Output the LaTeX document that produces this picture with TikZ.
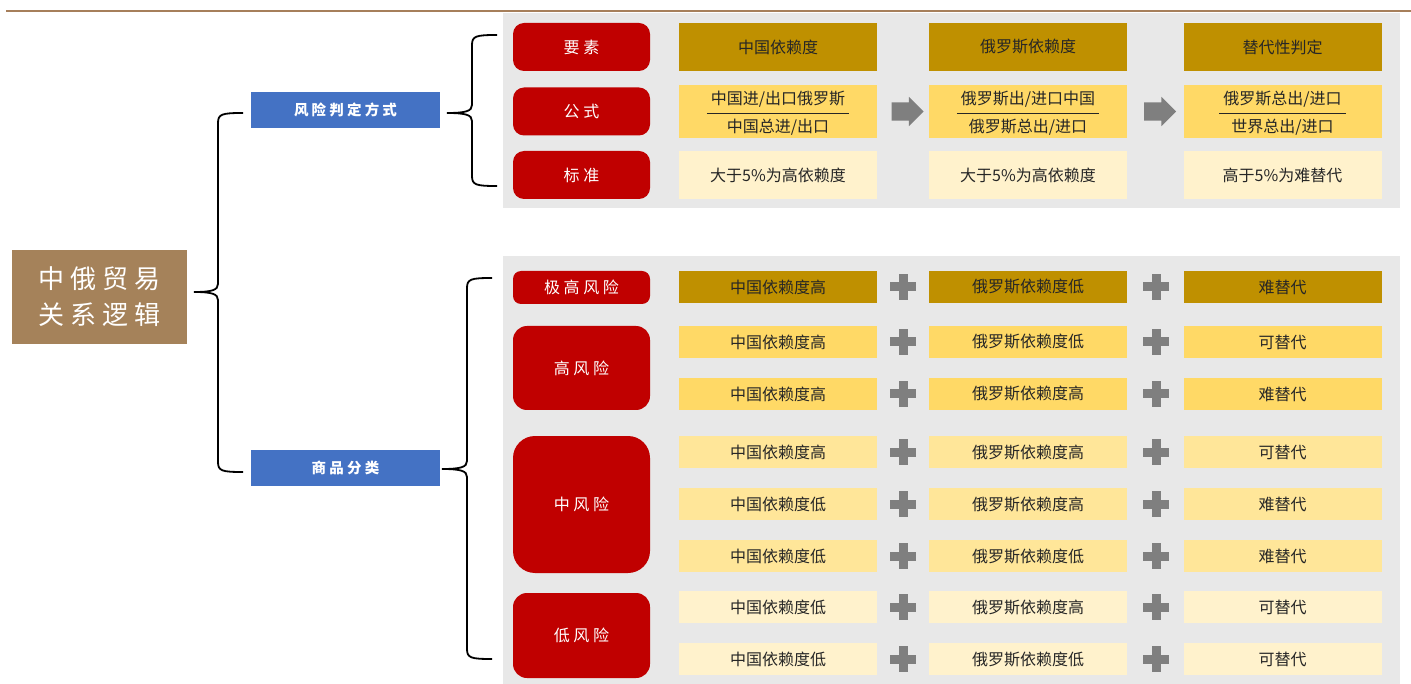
\documentclass[tikz,border=0pt]{standalone}
\usepackage{fontspec}
\setmainfont{Noto Sans CJK SC}
\newfontfamily\widecjk{Noto Sans CJK SC}[LetterSpace=22]
\usetikzlibrary{shapes.arrows}

\definecolor{linebrown}{HTML}{A67F5B}
\definecolor{mainbrown}{HTML}{A5825A}
\definecolor{boxblue}{HTML}{4472C4}
\definecolor{riskred}{HTML}{C00000}
\definecolor{golddark}{HTML}{BF9000}
\definecolor{yellowfull}{HTML}{FFD966}
\definecolor{yellowmid}{HTML}{FFE699}
\definecolor{yellowlight}{HTML}{FFF2CC}
\definecolor{panelgray}{HTML}{E8E8E8}
\definecolor{markgray}{HTML}{7F7F7F}
\definecolor{textdark}{HTML}{262626}

\tikzset{
  mainbox/.style={fill=mainbrown, text=white, minimum width=175pt, minimum height=94pt, align=center, font=\widecjk\fontsize{26}{36}\selectfont},
  bluebox/.style={fill=boxblue, text=white, minimum width=189pt, minimum height=36pt, inner sep=0pt, font=\widecjk\bfseries\fontsize{14.5}{16}\selectfont},
  riskbox/.style={fill=riskred, text=white, rounded corners=11pt, minimum width=137pt, inner sep=0pt, font=\widecjk\fontsize{16}{18}\selectfont},
  cell/.style={minimum width=198pt, inner sep=0pt, text=textdark, font=\fontsize{16}{18}\selectfont},
  plusmark/.style={minimum size=26pt, inner sep=0pt, path picture={
      \fill[markgray] ([xshift=-4.5pt]path picture bounding box.north) rectangle ([xshift=4.5pt]path picture bounding box.south);
      \fill[markgray] ([yshift=4.5pt]path picture bounding box.west) rectangle ([yshift=-4.5pt]path picture bounding box.east);}},
  stepright/.style={single arrow, fill=markgray, minimum height=32pt, minimum width=29pt, inner sep=9pt, single arrow head extend=5.5pt},
  bracket/.style={draw=black, line width=1.8pt}
}

% curly brace: tip x, tip y, spine x, top y, bottom y, end x
\newcommand{\curlybrace}[6]{%
  \draw[bracket] (#6,#4) .. controls (#3+4,#4) and (#3,#4+1) .. (#3,#4+10) -- (#3,#2-8)
    .. controls (#3,#2-2) and (#3-6,#2) .. (#1,#2)
    .. controls (#3-6,#2) and (#3,#2+2) .. (#3,#2+8) -- (#3,#5-10)
    .. controls (#3,#5-1) and (#3+4,#5) .. (#6,#5);}

% fraction inside a formula cell
\newcommand{\ratio}[2]{\setlength{\arrayrulewidth}{0.8pt}\setlength{\tabcolsep}{4pt}%
  \begin{tabular}{c}\rule{0pt}{20pt}#1\\[3pt]\hline\rule{0pt}{19pt}#2\end{tabular}}

\begin{document}
\begin{tikzpicture}[x=1pt,y=-1pt]
  \useasboundingbox (0,0) rectangle (1411,684);
  \draw[linebrown, line width=2.5pt] (6,11) -- (1411,11);

  % grey panels
  \fill[panelgray] (503,13) rectangle (1400,208);
  \fill[panelgray] (503,256) rectangle (1400,684);

  % left part
  \node[mainbox] (logic) at (99.5,297) {中俄贸易\\关系逻辑};
  \node[bluebox] (method) at (345.5,110) {风险判定方式};
  \node[bluebox] (goods) at (345.5,468) {商品分类};
  \curlybrace{194}{292}{218}{113}{472}{243}
  \curlybrace{447}{113}{472}{35}{186}{497}
  \curlybrace{442}{469}{467}{278}{659}{492}

  % judgement method
  \node[riskbox, minimum height=48pt] (element) at (581.5,47) {要素};
  \node[riskbox, minimum height=48pt] (formula) at (581.5,111.5) {公式};
  \node[riskbox, minimum height=48pt] (standard) at (581.5,175) {标准};

  \node[cell, fill=golddark, minimum height=48pt] (head-cn) at (778,47) {中国依赖度};
  \node[cell, fill=golddark, minimum height=48pt] (head-ru) at (1028,47) {俄罗斯依赖度};
  \node[cell, fill=golddark, minimum height=48pt] (head-sub) at (1282.5,47) {替代性判定};

  \node[cell, fill=yellowfull, minimum height=48pt] (frac-cn) at (778,111.5) {\ratio{中国进/出口俄罗斯}{中国总进/出口}};
  \node[cell, fill=yellowfull, minimum height=48pt] (frac-ru) at (1028,111.5) {\ratio{俄罗斯出/进口中国}{俄罗斯总出/进口}};
  \node[cell, fill=yellowfull, minimum height=48pt] (frac-sub) at (1282.5,111.5) {\ratio{俄罗斯总出/进口}{世界总出/进口}};
  \node[stepright] at (903,111.5) {};
  \node[stepright] at (1155.5,111.5) {};

  \node[cell, fill=yellowlight, minimum height=48pt] (std-cn) at (778,175.5) {大于5\%为高依赖度};
  \node[cell, fill=yellowlight, minimum height=48pt] (std-ru) at (1028,175.5) {大于5\%为高依赖度};
  \node[cell, fill=yellowlight, minimum height=48pt] (std-sub) at (1282.5,175.5) {高于5\%为难替代};

  % goods classification
  \foreach \name/\y/\h/\r/\txt in {top/287.5/33/8/极高风险, high/368/84/14/高风险, mid/504.5/137/22/中风险, low/635.5/85/14/低风险}
    \node[riskbox, minimum height=\h pt, rounded corners=\r pt] (risk-\name) at (581.5,\y) {\txt};

  \foreach \y/\fillc/\cn/\ru/\subs [count=\i] in {
      287/golddark/高/低/难, 342/yellowfull/高/低/可, 394/yellowfull/高/高/难,
      452/yellowmid/高/高/可, 504/yellowmid/低/高/难, 556/yellowmid/低/低/难,
      607/yellowlight/低/高/可, 659/yellowlight/低/低/可} {
    \node[cell, fill=\fillc, minimum height=32pt] (row\i-cn) at (778,\y) {中国依赖度\cn};
    \node[cell, fill=\fillc, minimum height=32pt] (row\i-ru) at (1028,\y) {俄罗斯依赖度\ru};
    \node[cell, fill=\fillc, minimum height=32pt] (row\i-sub) at (1282.5,\y) {{\subs}替代};
    \node[plusmark] at (903,\y) {};
    \node[plusmark] at (1156,\y) {};
  }
\end{tikzpicture}
\end{document}
